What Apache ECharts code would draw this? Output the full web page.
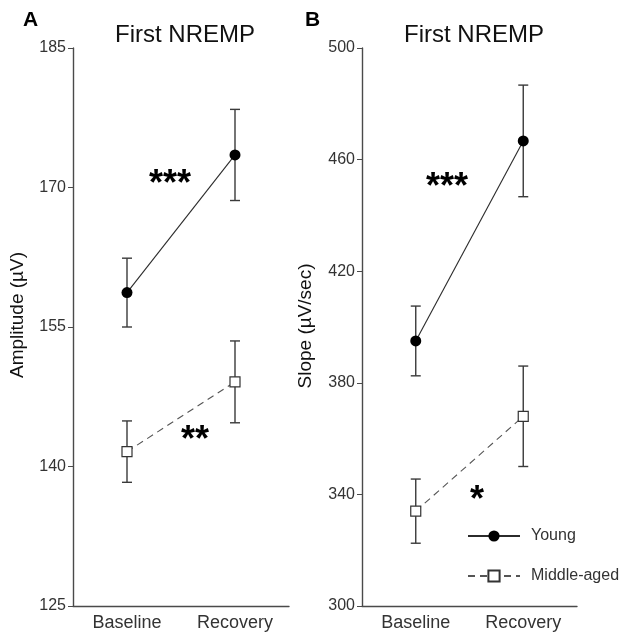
<!DOCTYPE html>
<html lang="en">
<head>
    <meta charset="UTF-8">
    <title>First NREMP</title>
    <script src="https://cdn.jsdelivr.net/npm/echarts@6.0.0/dist/echarts.min.js"></script>
    <style>
        html, body {
            margin: 0;
            padding: 0;
            background-color: #ffffff;
        }
        #chart {
            width: 625px;
            height: 632px;
        }
    </style>
</head>
<body>
<div id="chart"></div>
<script>
    // data
    var categories = ['Baseline', 'Recovery'];

    var ampYoung = [158.7, 173.5];
    var ampYoungErr = [3.7, 4.9];
    var ampMiddle = [141.6, 149.1];
    var ampMiddleErr = [3.3, 4.4];

    var slopeYoung = [395, 466.7];
    var slopeYoungErr = [12.5, 20];
    var slopeMiddle = [334, 368];
    var slopeMiddleErr = [11.5, 18];

    var ampTicks = [125, 140, 155, 170, 185];
    var slopeTicks = [300, 340, 380, 420, 460, 500];

    var FONT = 'Liberation Sans, Arial, sans-serif';
    var AXIS_COLOR = '#4a4a4a';
    var TEXT_COLOR = '#333333';

    function errData(vals, errs) {
        return vals.map(function (v, i) {
            return [i, v - errs[i], v + errs[i]];
        });
    }

    function renderErrorBar(params, api) {
        var lo = api.coord([api.value(0), api.value(1)]);
        var hi = api.coord([api.value(0), api.value(2)]);
        var half = 5;
        var style = { stroke: '#3a3a3a', lineWidth: 1.4 };
        return {
            type: 'group',
            children: [
                { type: 'line', shape: { x1: lo[0], y1: lo[1], x2: hi[0], y2: hi[1] }, style: style },
                { type: 'line', shape: { x1: hi[0] - half, y1: hi[1], x2: hi[0] + half, y2: hi[1] }, style: style },
                { type: 'line', shape: { x1: lo[0] - half, y1: lo[1], x2: lo[0] + half, y2: lo[1] }, style: style }
            ]
        };
    }

    function xAxisFor(gridIndex) {
        return {
            type: 'category',
            gridIndex: gridIndex,
            data: categories,
            boundaryGap: true,
            axisLine: { lineStyle: { color: AXIS_COLOR, width: 1.4 } },
            axisTick: { alignWithLabel: true, length: 5, lineStyle: { color: AXIS_COLOR } },
            axisLabel: { color: TEXT_COLOR, fontSize: 18, fontFamily: FONT, margin: 8 },
            splitLine: { show: false }
        };
    }

    function yAxisFor(gridIndex, min, max, ticks) {
        return {
            type: 'value',
            gridIndex: gridIndex,
            min: min,
            max: max,
            axisLine: { show: true, lineStyle: { color: AXIS_COLOR, width: 1.4 } },
            axisTick: { show: true, length: 5, customValues: ticks, lineStyle: { color: AXIS_COLOR } },
            axisLabel: { color: TEXT_COLOR, fontSize: 16, fontFamily: FONT, margin: 7, customValues: ticks },
            splitLine: { show: false }
        };
    }

    function youngSeries(name, data, idx) {
        return {
            name: name,
            type: 'line',
            xAxisIndex: idx,
            yAxisIndex: idx,
            data: data,
            symbol: 'circle',
            symbolSize: 11,
            z: 5,
            lineStyle: { color: '#2b2b2b', width: 1.1 },
            itemStyle: { color: '#000000' },
            emphasis: { disabled: true }
        };
    }

    function middleSeries(name, data, idx) {
        return {
            name: name,
            type: 'line',
            xAxisIndex: idx,
            yAxisIndex: idx,
            data: data,
            symbol: 'rect',
            symbolSize: 10,
            showAllSymbol: true,
            z: 5,
            lineStyle: { color: '#555555', width: 1.1, type: [7, 5] },
            itemStyle: { color: '#ffffff', borderColor: '#333333', borderWidth: 1.2 },
            emphasis: { disabled: true }
        };
    }

    var chart = echarts.init(document.getElementById('chart'));

    var option = {
        backgroundColor: '#ffffff',
        animation: false,
        title: [
            { text: 'First NREMP', left: 180, top: 18, textAlign: 'center',
              textStyle: { fontSize: 24, fontWeight: 'normal', color: '#111', fontFamily: FONT } },
            { text: 'First NREMP', left: 469, top: 18, textAlign: 'center',
              textStyle: { fontSize: 24, fontWeight: 'normal', color: '#111', fontFamily: FONT } },
            { text: 'A', left: 18, top: 5,
              textStyle: { fontSize: 21, fontWeight: 'bold', color: '#000', fontFamily: FONT } },
            { text: 'B', left: 300, top: 5,
              textStyle: { fontSize: 21, fontWeight: 'bold', color: '#000', fontFamily: FONT } }
        ],
        legend: {
            data: ['Young', 'Middle-aged'],
            orient: 'vertical',
            left: 462,
            top: 523,
            itemWidth: 52,
            itemHeight: 14,
            itemGap: 24,
            selectedMode: false,
            textStyle: { fontSize: 16, color: TEXT_COLOR, fontFamily: FONT, padding: [0, 0, 0, 6] }
        },
        grid: [
            { left: 73, top: 48, width: 216, height: 558 },
            { left: 362, top: 48, width: 215, height: 558 }
        ],
        xAxis: [xAxisFor(0), xAxisFor(1)],
        yAxis: [
            yAxisFor(0, 125, 185, ampTicks),
            yAxisFor(1, 300, 500, slopeTicks)
        ],
        graphic: [
            { type: 'text', x: 18, y: 315, rotation: Math.PI / 2,
              style: { text: 'Amplitude (µV)', fontSize: 19, fontFamily: FONT, fill: '#111',
                       textAlign: 'center', textVerticalAlign: 'middle' } },
            { type: 'text', x: 306, y: 326, rotation: Math.PI / 2,
              style: { text: 'Slope (µV/sec)', fontSize: 19, fontFamily: FONT, fill: '#111',
                       textAlign: 'center', textVerticalAlign: 'middle' } },
            { type: 'text', x: 170, y: 185,
              style: { text: '***', fontSize: 36, fontWeight: 'bold', fontFamily: FONT, fill: '#000',
                       textAlign: 'center', textVerticalAlign: 'middle' } },
            { type: 'text', x: 195, y: 441,
              style: { text: '**', fontSize: 36, fontWeight: 'bold', fontFamily: FONT, fill: '#000',
                       textAlign: 'center', textVerticalAlign: 'middle' } },
            { type: 'text', x: 447, y: 188,
              style: { text: '***', fontSize: 36, fontWeight: 'bold', fontFamily: FONT, fill: '#000',
                       textAlign: 'center', textVerticalAlign: 'middle' } },
            { type: 'text', x: 477, y: 501,
              style: { text: '*', fontSize: 36, fontWeight: 'bold', fontFamily: FONT, fill: '#000',
                       textAlign: 'center', textVerticalAlign: 'middle' } }
        ],
        series: [
            { name: 'errYoungA', type: 'custom', xAxisIndex: 0, yAxisIndex: 0, z: 3,
              renderItem: renderErrorBar, data: errData(ampYoung, ampYoungErr) },
            { name: 'errMiddleA', type: 'custom', xAxisIndex: 0, yAxisIndex: 0, z: 3,
              renderItem: renderErrorBar, data: errData(ampMiddle, ampMiddleErr) },
            { name: 'errYoungB', type: 'custom', xAxisIndex: 1, yAxisIndex: 1, z: 3,
              renderItem: renderErrorBar, data: errData(slopeYoung, slopeYoungErr) },
            { name: 'errMiddleB', type: 'custom', xAxisIndex: 1, yAxisIndex: 1, z: 3,
              renderItem: renderErrorBar, data: errData(slopeMiddle, slopeMiddleErr) },
            youngSeries('Young', ampYoung, 0),
            middleSeries('Middle-aged', ampMiddle, 0),
            youngSeries('Young', slopeYoung, 1),
            middleSeries('Middle-aged', slopeMiddle, 1)
        ]
    };

    chart.setOption(option);
</script>
</body>
</html>
